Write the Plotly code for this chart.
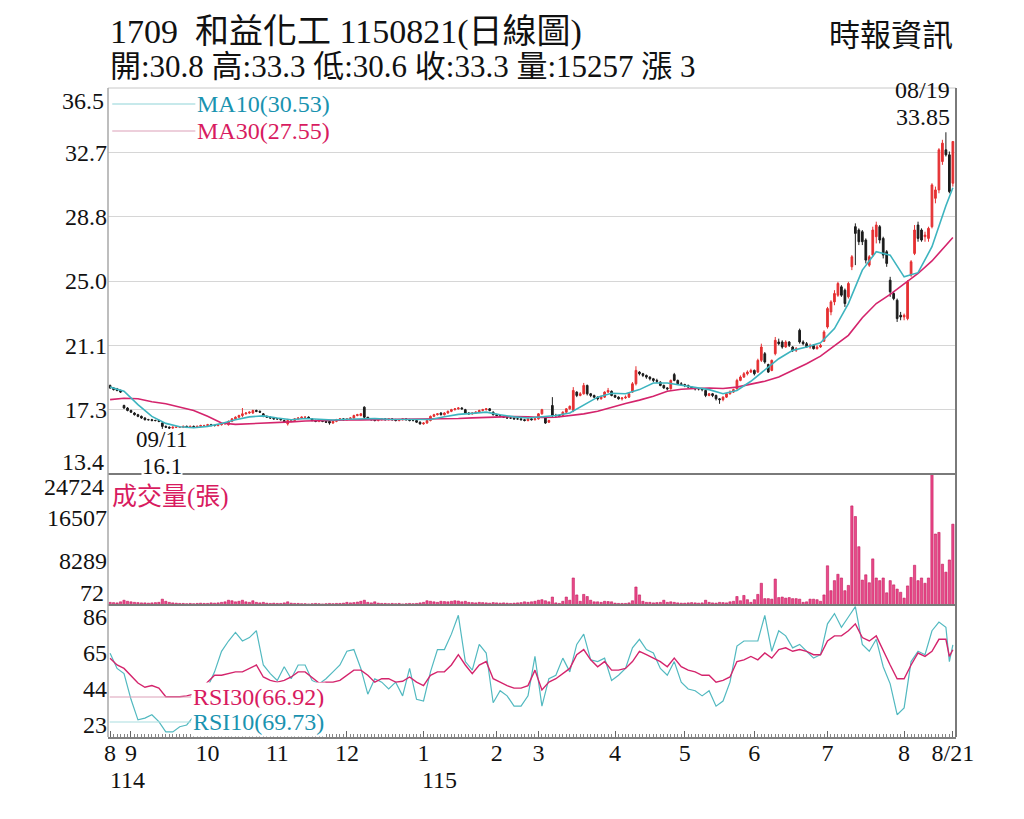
import plotly.graph_objects as go
from plotly.subplots import make_subplots

# ---------------- data ----------------
month_pos = [0, 6, 28, 48, 68, 90, 111, 123, 145, 165, 185, 206, 228, 242]
month_lbl = ["8", "9", "10", "11", "12", "1", "2", "3", "4", "5", "6", "7", "8", "8/21"]

price_ticks = [17.25, 21.1, 24.95, 28.8, 32.65]
price_ticktext = ["17.3", "21.1", "25.0", "28.8", "32.7"]
vol_ticks = [8289, 16507]
vol_ticktext = ["8289", "16507"]
rsi_ticks = [23, 44, 65, 86]

open_ = [
    18.7, 18.55, 18.5, 18.4, 17.5, 17.35, 17.2, 17.05, 16.95, 16.85,
    16.75, 16.65, 16.65, 16.6, 16.6, 16.45, 16.25, 16.2, 16.15, 16.2,
    16.2, 16.2, 16.25, 16.2, 16.25, 16.2, 16.25, 16.3, 16.3, 16.35,
    16.3, 16.3, 16.35, 16.4, 16.35, 16.55, 16.7, 16.8, 16.9, 17.0,
    17.05, 17.05, 17.2, 17.15, 17.0, 16.85, 16.8, 16.75, 16.7, 16.7,
    16.6, 16.4, 16.6, 16.6, 16.7, 16.75, 16.8, 16.8, 16.7, 16.6,
    16.55, 16.6, 16.55, 16.55, 16.45, 16.55, 16.65, 16.7, 16.65, 16.7,
    16.75, 16.9, 16.9, 17.4, 16.8, 16.7, 16.65, 16.6, 16.65, 16.7,
    16.65, 16.7, 16.65, 16.6, 16.65, 16.7, 16.65, 16.6, 16.6, 16.5,
    16.4, 16.45, 16.6, 16.85, 16.95, 17.05, 16.95, 17.05, 17.15, 17.25,
    17.3, 17.35, 17.25, 17.05, 17.0, 17.05, 17.1, 17.2, 17.25, 17.3,
    17.1, 16.95, 16.9, 16.85, 16.8, 16.75, 16.75, 16.7, 16.7, 16.65,
    16.6, 16.7, 16.65, 16.7, 17.0, 16.75, 16.5, 17.5, 16.9, 16.9,
    16.9, 17.1, 17.3, 17.2, 18.3, 18.1, 18.2, 18.7, 18.2, 18.1,
    18.0, 17.9, 18.0, 18.3, 18.35, 18.1, 18.0, 17.9, 17.95, 18.0,
    18.3, 18.8, 19.5, 19.4, 19.3, 19.2, 19.1, 19.0, 18.9, 18.7,
    18.55, 18.5, 19.35, 19.0, 18.8, 18.75, 18.7, 18.6, 18.55, 18.5,
    18.5, 18.4, 18.1, 18.2, 18.1, 17.9, 17.85, 18.0, 18.2, 18.3,
    18.5, 19.0, 19.2, 19.4, 19.5, 19.6, 19.5, 20.2, 20.6, 19.95,
    19.6, 20.6, 21.3, 21.3, 21.0, 21.3, 21.0, 20.8, 22.0, 21.3,
    21.2, 21.0, 21.1, 20.9, 21.0, 21.35, 22.2, 23.1, 23.7, 24.1,
    24.6, 24.4, 24.0, 25.8, 28.2, 28.0, 27.9, 27.4, 25.9, 26.5,
    27.6, 28.2, 27.5, 26.7, 25.0, 24.2, 23.8, 22.9, 22.8, 22.7,
    25.3, 26.6, 28.3, 28.0, 27.6, 27.5, 28.2, 29.9, 30.4, 32.1,
    32.8, 32.5, 30.8,
]
high_ = [
    18.75, 18.6, 18.55, 18.45, 17.55, 17.4, 17.25, 17.1, 17.0, 16.9,
    16.8, 16.7, 16.7, 16.65, 16.65, 16.5, 16.3, 16.25, 16.25, 16.25,
    16.25, 16.3, 16.3, 16.3, 16.3, 16.3, 16.35, 16.35, 16.4, 16.4,
    16.35, 16.4, 16.45, 16.5, 16.6, 16.75, 16.85, 16.95, 17.35, 17.1,
    17.15, 17.25, 17.25, 17.2, 17.05, 16.9, 16.85, 16.8, 16.75, 16.75,
    16.65, 16.7, 16.65, 16.75, 16.8, 16.85, 16.85, 16.85, 16.75, 16.65,
    16.65, 16.65, 16.6, 16.6, 16.6, 16.7, 16.75, 16.75, 16.75, 16.8,
    16.95, 17.0, 17.05, 17.45, 16.8, 16.75, 16.7, 16.7, 16.75, 16.75,
    16.75, 16.75, 16.7, 16.7, 16.75, 16.75, 16.7, 16.65, 16.65, 16.55,
    16.5, 16.65, 16.9, 17.0, 17.05, 17.1, 17.1, 17.2, 17.3, 17.35,
    17.4, 17.4, 17.3, 17.1, 17.1, 17.15, 17.25, 17.3, 17.35, 17.35,
    17.15, 17.0, 16.95, 16.9, 16.85, 16.8, 16.8, 16.75, 16.75, 16.7,
    16.75, 16.75, 16.75, 17.05, 17.3, 16.8, 16.65, 18.0, 17.0, 16.95,
    17.15, 17.35, 17.5, 18.6, 18.35, 18.3, 18.85, 18.75, 18.25, 18.15,
    18.05, 18.1, 18.35, 18.55, 18.4, 18.15, 18.05, 18.0, 18.1, 18.25,
    18.9, 19.85, 19.55, 19.45, 19.35, 19.25, 19.15, 19.1, 18.95, 18.75,
    18.6, 19.05, 19.45, 19.05, 18.9, 18.8, 18.75, 18.65, 18.6, 18.55,
    18.55, 18.45, 18.25, 18.25, 18.15, 17.95, 18.05, 18.25, 18.4, 18.5,
    19.1, 19.3, 19.5, 19.6, 19.7, 19.65, 20.3, 21.2, 20.7, 20.0,
    20.25, 21.6, 21.5, 21.4, 21.4, 21.35, 21.05, 21.0, 22.1, 21.4,
    21.3, 21.2, 21.15, 21.1, 21.2, 22.0, 23.4, 23.8, 24.4, 24.9,
    24.7, 24.5, 24.9, 26.5, 28.4, 28.1, 28.0, 27.5, 26.5, 28.2,
    28.5, 28.3, 27.6, 26.8, 25.2, 24.3, 23.9, 23.1, 23.0, 25.0,
    26.2, 28.3, 28.5, 28.1, 27.9, 28.2, 30.8, 30.6, 32.9, 33.4,
    33.85, 32.7, 33.3,
]
low_ = [
    18.5, 18.4, 18.35, 18.25, 17.3, 17.15, 17.05, 16.9, 16.8, 16.7,
    16.6, 16.6, 16.55, 16.55, 16.5, 16.1, 16.15, 16.1, 16.1, 16.15,
    16.15, 16.15, 16.15, 16.15, 16.15, 16.15, 16.2, 16.25, 16.25, 16.25,
    16.25, 16.25, 16.3, 16.35, 16.3, 16.5, 16.65, 16.75, 16.8, 16.95,
    17.0, 17.0, 17.1, 17.05, 16.8, 16.75, 16.7, 16.65, 16.65, 16.6,
    16.45, 16.3, 16.5, 16.55, 16.65, 16.7, 16.7, 16.7, 16.55, 16.5,
    16.5, 16.5, 16.45, 16.35, 16.4, 16.5, 16.6, 16.6, 16.6, 16.65,
    16.7, 16.85, 16.85, 16.75, 16.65, 16.6, 16.55, 16.55, 16.6, 16.6,
    16.6, 16.6, 16.55, 16.55, 16.6, 16.6, 16.55, 16.55, 16.45, 16.35,
    16.35, 16.4, 16.55, 16.8, 16.9, 16.9, 16.9, 17.0, 17.1, 17.2,
    17.25, 17.25, 17.0, 16.95, 16.95, 17.0, 17.05, 17.15, 17.2, 17.15,
    16.9, 16.85, 16.8, 16.75, 16.7, 16.7, 16.65, 16.65, 16.6, 16.55,
    16.55, 16.6, 16.6, 16.65, 16.95, 16.4, 16.45, 16.8, 16.8, 16.8,
    16.85, 17.05, 17.25, 17.1, 18.0, 18.05, 18.15, 18.1, 18.0, 17.95,
    17.8, 17.85, 17.95, 18.25, 18.05, 17.95, 17.85, 17.8, 17.9, 17.95,
    18.25, 18.7, 19.3, 19.2, 19.1, 19.0, 18.9, 18.85, 18.65, 18.5,
    18.4, 18.45, 18.95, 18.75, 18.7, 18.6, 18.55, 18.5, 18.4, 18.4,
    18.35, 18.0, 18.05, 18.0, 17.8, 17.6, 17.75, 17.95, 18.15, 18.25,
    18.45, 18.95, 19.15, 19.3, 19.45, 19.3, 19.45, 20.1, 20.0, 19.45,
    19.55, 20.5, 21.1, 20.9, 20.95, 21.0, 20.7, 20.7, 21.2, 21.1,
    20.95, 20.9, 20.85, 20.85, 20.95, 21.3, 22.1, 22.9, 23.5, 24.0,
    24.0, 23.4, 23.9, 25.6, 25.9, 27.1, 27.1, 26.0, 25.8, 26.4,
    27.2, 27.2, 26.3, 25.8, 24.0, 23.8, 22.5, 22.6, 22.6, 22.6,
    25.2, 26.5, 27.3, 27.3, 27.3, 27.3, 28.1, 29.6, 30.2, 31.9,
    32.4, 30.2, 30.6,
]
close_ = [
    18.55, 18.45, 18.4, 18.3, 17.35, 17.2, 17.1, 16.95, 16.85, 16.75,
    16.65, 16.65, 16.6, 16.6, 16.55, 16.25, 16.2, 16.15, 16.2, 16.2,
    16.2, 16.25, 16.2, 16.25, 16.2, 16.25, 16.3, 16.3, 16.35, 16.3,
    16.3, 16.35, 16.4, 16.45, 16.55, 16.7, 16.8, 16.9, 17.0, 17.05,
    17.1, 17.2, 17.15, 17.1, 16.85, 16.8, 16.75, 16.7, 16.7, 16.65,
    16.5, 16.6, 16.6, 16.7, 16.75, 16.8, 16.8, 16.75, 16.6, 16.55,
    16.6, 16.55, 16.5, 16.45, 16.55, 16.65, 16.7, 16.65, 16.7, 16.75,
    16.9, 16.95, 17.0, 16.8, 16.7, 16.65, 16.6, 16.65, 16.7, 16.65,
    16.7, 16.65, 16.6, 16.65, 16.7, 16.65, 16.6, 16.6, 16.5, 16.4,
    16.45, 16.6, 16.85, 16.95, 17.0, 16.95, 17.05, 17.15, 17.25, 17.3,
    17.35, 17.3, 17.05, 17.0, 17.05, 17.1, 17.2, 17.25, 17.3, 17.2,
    16.95, 16.9, 16.85, 16.8, 16.75, 16.75, 16.7, 16.7, 16.65, 16.6,
    16.7, 16.65, 16.7, 17.0, 17.25, 16.45, 16.6, 16.9, 16.9, 16.85,
    17.1, 17.3, 17.45, 18.4, 18.1, 18.2, 18.7, 18.2, 18.1, 18.0,
    17.9, 18.0, 18.3, 18.4, 18.1, 18.0, 17.9, 17.95, 18.0, 18.2,
    18.8, 19.6, 19.4, 19.3, 19.2, 19.1, 19.0, 18.95, 18.7, 18.55,
    18.5, 19.0, 19.0, 18.8, 18.75, 18.7, 18.6, 18.55, 18.5, 18.5,
    18.45, 18.1, 18.2, 18.1, 17.9, 17.85, 18.0, 18.2, 18.3, 18.45,
    19.0, 19.2, 19.4, 19.5, 19.6, 19.4, 20.2, 21.0, 20.1, 19.5,
    20.2, 21.4, 21.2, 21.0, 21.3, 21.1, 20.8, 20.9, 21.3, 21.2,
    21.0, 21.1, 20.9, 21.0, 21.1, 21.9, 23.3, 23.7, 24.2, 24.8,
    24.1, 23.6, 24.8, 26.4, 27.8, 27.3, 27.3, 26.2, 26.4, 28.0,
    28.3, 27.4, 26.5, 26.0, 24.3, 23.9, 22.7, 22.8, 22.9, 24.9,
    26.1, 28.0, 27.5, 27.4, 27.7, 28.1, 30.7, 30.4, 32.8, 33.2,
    32.5, 30.3, 33.3,
]
volume = [
    500, 450, 400, 600, 900, 700, 600, 500, 450, 400,
    400, 350, 400, 450, 500, 1100, 700, 500, 400, 350,
    300, 300, 250, 300, 250, 300, 350, 300, 300, 400,
    350, 400, 500, 600, 900, 800, 600, 700, 900, 600,
    500, 800, 500, 400, 500, 350, 300, 350, 300, 300,
    400, 600, 350, 300, 300, 250, 250, 200, 250, 300,
    250, 200, 250, 300, 250, 300, 300, 350, 500, 400,
    450, 550, 700, 900, 500, 400, 600, 350, 300, 300,
    250, 300, 250, 300, 200, 250, 300, 250, 300, 400,
    500, 800, 700, 600, 500, 700, 650, 600, 700, 800,
    750, 600, 700, 500, 450, 400, 500, 450, 400, 350,
    450, 400, 350, 400, 350, 300, 350, 400, 450, 600,
    500, 600, 700, 900, 1000, 800, 600, 1500, 400, 300,
    700, 1500, 900, 5100, 1900, 700, 2000, 1600, 900, 600,
    600, 500, 700, 650, 600, 350, 300, 300, 300, 400,
    800, 3400, 1900, 700, 500, 500, 400, 450, 500, 900,
    500, 600, 500, 400, 350, 350, 400, 450, 400, 350,
    400, 900, 500, 400, 350, 500, 450, 400, 600, 700,
    1600, 800, 1800, 1000, 500, 1000, 2000, 4100, 1200, 1200,
    1100, 4900, 1400, 1500, 1300, 1400, 1200, 1200, 1100, 500,
    600, 1100, 1100, 1000, 700, 1900, 7400, 2700, 4600, 5800,
    5100, 2700, 3700, 18700, 16700, 11000, 4700, 5700, 4200, 8700,
    5100, 4600, 5100, 2300, 4600, 3800, 3000, 2400, 1300, 3600,
    5200, 7500, 4600, 5100, 4100, 5100, 24724, 13400, 13700, 7700,
    6200, 8500, 15257,
]

ma_idx = list(range(0, 241, 4)) + [242]
ma10 = [
    18.6, 18.35, 17.55, 16.85, 16.43, 16.23, 16.17, 16.25, 16.42, 16.65,
    16.82, 16.88, 16.75, 16.65, 16.72, 16.68, 16.63, 16.68, 16.72, 16.72,
    16.68, 16.68, 16.65, 16.66, 16.83, 16.97, 17.03, 17.1, 16.95, 16.82,
    16.75, 16.83, 16.9, 17.05, 17.55, 18.0, 18.23, 18.2, 18.45, 18.85,
    18.85, 18.72, 18.6, 18.45, 18.2, 18.4, 18.95, 19.65, 20.3, 20.8,
    21.0, 21.25, 22.1, 23.6, 25.6, 26.7, 26.5, 25.2, 25.45, 27.0,
    29.45, 30.53,
]
ma30 = [
    17.85, 17.93, 17.9, 17.72, 17.6, 17.42, 17.2, 16.85, 16.45, 16.37,
    16.4, 16.45, 16.48, 16.52, 16.57, 16.6, 16.63, 16.63, 16.64, 16.65,
    16.66, 16.66, 16.67, 16.68, 16.7, 16.72, 16.76, 16.8, 16.83, 16.84,
    16.83, 16.78, 16.8, 16.9, 17.0, 17.15, 17.4, 17.62, 17.82, 18.05,
    18.35, 18.47, 18.52, 18.55, 18.52, 18.6, 18.78, 18.95, 19.2, 19.6,
    20.0, 20.45, 21.05, 21.7, 22.75, 23.6, 24.15, 24.75, 25.4, 26.15,
    27.05, 27.55,
]

rsi_idx = list(range(0, 241, 2)) + [241, 242]
rsi10 = [
    64.8, 56, 53, 38, 26, 27, 29, 25, 19, 19,
    22, 23, 28, 38, 45, 54, 66, 72, 77, 72,
    74, 78, 58, 53, 49, 57, 50, 58, 58, 49,
    47, 50, 54, 58, 66, 67, 56, 41, 50, 48,
    44, 48, 40, 56, 38, 37, 54, 67, 67, 76,
    87, 60, 55, 70, 65, 36, 43, 40, 34, 34,
    40, 63, 34, 50, 52, 62, 54, 70, 76, 61,
    60, 62, 49, 52, 56, 68, 73, 67, 65, 56,
    52, 60, 48, 44, 43, 40, 43, 34, 37, 48,
    69, 72, 72, 72, 87, 66, 78, 75, 68, 70,
    66, 62, 64, 82, 88, 80, 86, 92, 70, 66,
    73, 57, 47, 29, 33, 60, 66, 64, 78, 83,
    80, 60, 69.73,
]
rsi30 = [
    62, 58, 56, 52, 47.5, 45, 46, 44.5, 39.5, 39.5,
    39.5, 40, 41, 44, 48, 52, 52, 53, 54, 54,
    56, 58, 51, 49, 48, 49, 51, 54, 54, 51,
    47.5, 48, 48, 49, 52, 55, 55, 52, 48, 50,
    50, 48, 48.5, 51, 48, 46, 52, 54, 54, 58,
    64, 58, 53, 58, 60, 50, 48, 46, 44.5, 44.5,
    46, 55, 43.5, 48, 50, 53, 56, 64, 67, 61,
    57, 60, 55, 55, 56, 60, 66, 64, 62, 60,
    57, 62, 57, 55, 54, 52, 52, 48, 49, 51,
    60, 61, 63, 61, 65, 62, 67, 68, 66, 67,
    66, 64, 64, 72, 75, 75, 78, 82, 74, 72,
    75, 66, 58, 50, 50, 58, 65, 63, 66, 73,
    73, 63, 66.92,
]

days = list(range(len(close_)))

# ---------------- styling ----------------
SERIF = "Liberation Serif, Noto Sans CJK TC, serif"
RED = "#e53032"
BLACK = "#1c1c1c"
CYAN = "#3db4bf"
MAGENTA = "#d4246c"
CYAN_TXT = "#1a93b0"
MAG_TXT = "#d81b60"


def py(pix):
    # page pixel row -> paper coordinate of the plot area (88..737)
    return (737 - pix) / 649


fig = make_subplots(rows=3, cols=1, shared_xaxes=True, vertical_spacing=0,
                    row_heights=[386, 131, 132])

fig.add_trace(go.Candlestick(
    x=days, open=open_, high=high_, low=low_, close=close_,
    increasing=dict(line=dict(color=RED, width=1), fillcolor=RED),
    decreasing=dict(line=dict(color=BLACK, width=1), fillcolor=BLACK),
    whiskerwidth=0, hoverinfo="skip"), row=1, col=1)
fig.add_trace(go.Scatter(x=ma_idx, y=ma30, mode="lines",
                         line=dict(color=MAGENTA, width=1.6)), row=1, col=1)
fig.add_trace(go.Scatter(x=ma_idx, y=ma10, mode="lines",
                         line=dict(color=CYAN, width=1.6)), row=1, col=1)

fig.add_trace(go.Bar(x=days, y=volume,
                     marker=dict(color="#ea4a8b", line=dict(color="#c2185b", width=0.6))),
              row=2, col=1)

fig.add_trace(go.Scatter(x=rsi_idx, y=rsi10, mode="lines",
                         line=dict(color="#52b9c0", width=1.2)), row=3, col=1)
fig.add_trace(go.Scatter(x=rsi_idx, y=rsi30, mode="lines",
                         line=dict(color=MAGENTA, width=1.4)), row=3, col=1)

# page body adds 8px, so the figure is 8px smaller and margins shifted
fig.update_layout(
    width=1016, height=811,
    margin=dict(l=100, r=68, t=80, b=82),
    paper_bgcolor="white", plot_bgcolor="white",
    showlegend=False, bargap=0.35,
    font=dict(family=SERIF, size=24, color="#111"),
)

fig.update_xaxes(range=[-0.6, 242.9], showgrid=False, zeroline=False,
                 rangeslider_visible=False)
fig.update_xaxes(showticklabels=False, ticks="", row=1, col=1)
fig.update_xaxes(showticklabels=False, ticks="", row=2, col=1)
fig.update_xaxes(tickmode="array", tickvals=month_pos, ticktext=month_lbl,
                 ticks="inside", ticklen=6, tickcolor="#666",
                 ticklabelstandoff=-7,
                 showline=True, linecolor="#808080", linewidth=2,
                 tickfont=dict(family=SERIF, size=24, color="#111"),
                 minor=dict(tickmode="linear", tick0=0, dtick=1, ticks="inside",
                            ticklen=3, tickcolor="#888", showgrid=False),
                 row=3, col=1)

fig.update_yaxes(range=[13.4, 36.5], tickvals=price_ticks, ticktext=price_ticktext,
                 showgrid=True, gridcolor="#d6d6d6", gridwidth=1, zeroline=False,
                 ticks="", row=1, col=1)
fig.update_yaxes(range=[0, 24724], tickvals=vol_ticks, ticktext=vol_ticktext,
                 showgrid=False, zeroline=False, ticks="", row=2, col=1)
fig.update_yaxes(range=[16, 93], tickvals=rsi_ticks, showgrid=False,
                 zeroline=False, ticks="", row=3, col=1)

# panel frames
fig.add_shape(type="line", xref="paper", yref="paper", x0=0, x1=1, y0=1, y1=1,
              line=dict(color="#c8c8c8", width=1))
for yy in (py(474), py(605)):
    fig.add_shape(type="line", xref="paper", yref="paper", x0=0, x1=1, y0=yy, y1=yy,
                  line=dict(color="#7a7a7a", width=2))
fig.add_shape(type="line", xref="paper", yref="paper", x0=1, x1=1, y0=0, y1=1,
              line=dict(color="#7a7a7a", width=2))
fig.add_shape(type="line", xref="paper", yref="paper", x0=0, x1=0, y0=0, y1=1,
              line=dict(color="#a8a8a8", width=1.5))

# legend sample lines
fig.add_shape(type="line", xref="paper", yref="paper", x0=0.005, x1=0.103,
              y0=py(104), y1=py(104), line=dict(color="#8fd3d8", width=1.2))
fig.add_shape(type="line", xref="paper", yref="paper", x0=0.005, x1=0.103,
              y0=py(131), y1=py(131), line=dict(color="#dba0b8", width=1.2))
fig.add_shape(type="line", xref="paper", yref="paper", x0=0.002, x1=0.098,
              y0=py(697), y1=py(697), line=dict(color="#dba0b8", width=1.2))
fig.add_shape(type="line", xref="paper", yref="paper", x0=0.002, x1=0.098,
              y0=py(722), y1=py(722), line=dict(color="#a9dde0", width=1.2))

ann = [
    dict(text="1709  和益化工 1150821(日線圖)", x=0, y=py(32), xanchor="left",
         font=dict(size=34)),
    dict(text="開:30.8 高:33.3 低:30.6 收:33.3 量:15257 漲 3", x=0, y=py(66),
         xanchor="left", font=dict(size=31)),
    dict(text="時報資訊", x=0.9988, y=py(36), xanchor="right", font=dict(size=31)),
    dict(text="MA10(30.53)", x=0.103, y=py(104), xanchor="left",
         font=dict(size=24, color=CYAN_TXT)),
    dict(text="MA30(27.55)", x=0.103, y=py(131), xanchor="left",
         font=dict(size=24, color=MAG_TXT)),
    dict(text="成交量(張)", x=0.004, y=py(497), xanchor="left", borderpad=0,
         font=dict(size=25, color=MAG_TXT)),
    dict(text="RSI30(66.92)", x=0.098, y=py(697), xanchor="left",
         font=dict(size=24, color=MAG_TXT), bgcolor="white"),
    dict(text="RSI10(69.73)", x=0.098, y=py(722), xanchor="left",
         font=dict(size=24, color=CYAN_TXT), bgcolor="white"),
    dict(text="114", x=0, y=py(780), xanchor="left", font=dict(size=24)),
    dict(text="115", x=0.368, y=py(780), xanchor="left", font=dict(size=24)),
]
for a in ann:
    fig.add_annotation(xref="paper", yref="paper", showarrow=False, yanchor="middle", **a)

# edge tick labels (shifted inside their panels)
for txt, yref, yv, shift in [("36.5", "y", 36.5, -13), ("13.4", "y", 13.4, 12),
                             ("24724", "y2", 24724, -13), ("72", "y2", 72, 12)]:
    fig.add_annotation(text=txt, xref="paper", x=0, xanchor="right", xshift=-2,
                       yref=yref, y=yv, yanchor="middle", yshift=shift,
                       showarrow=False, font=dict(size=24))

# low / high markers
fig.add_annotation(text="09/11", xref="x", x=15, yref="y", y=16.1, yanchor="middle",
                   yshift=-11, borderpad=0, showarrow=False, font=dict(size=23))
fig.add_annotation(text="16.1", xref="x", x=15, yref="y", y=16.1, yanchor="middle",
                   yshift=-38, borderpad=0, showarrow=False, font=dict(size=23),
                   bgcolor="white")
fig.add_annotation(text="33.85", xref="paper", x=1, xanchor="right", xshift=-4,
                   yref="y", y=33.85, yanchor="bottom", yshift=0,
                   showarrow=False, font=dict(size=24))
fig.add_annotation(text="08/19", xref="paper", x=1, xanchor="right", xshift=-4,
                   yref="y", y=33.85, yanchor="bottom", yshift=27,
                   showarrow=False, font=dict(size=24))

fig.write_html("out.html")
